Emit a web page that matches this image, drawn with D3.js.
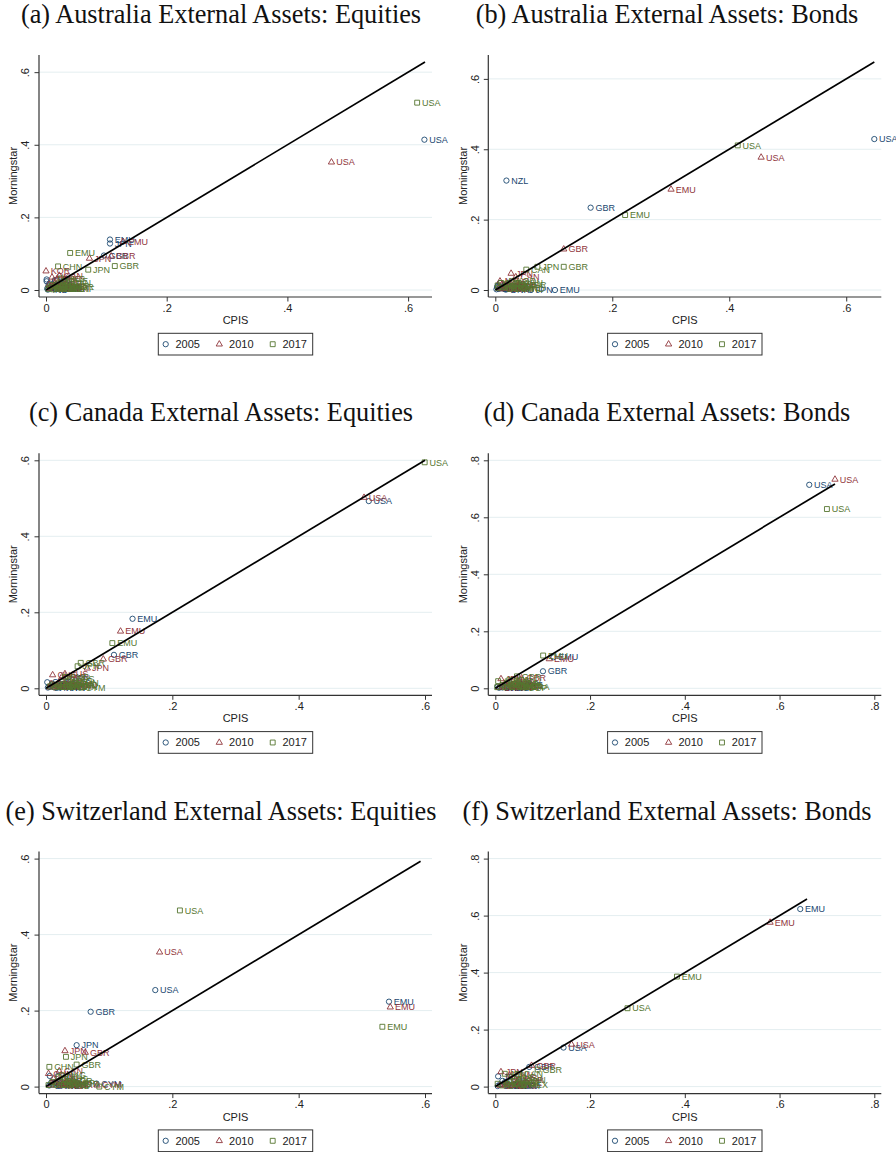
<!DOCTYPE html>
<html><head><meta charset="utf-8">
<script src="https://cdn.jsdelivr.net/npm/d3@7"></script>
<style>body{margin:0;background:#fff}svg{display:block}</style>
</head><body>
<svg id="c" width="896" height="1152"></svg>
<script>
// ---- data: [label, CPIS, Morningstar] ----
const years = ["2005", "2010", "2017"];
const colors = ["#1a476f", "#90353b", "#55752f"];

const aEq05 = [["USA",.627,.414],["EMU",.106,.139],["JPN",.106,.128],["GBR",.096,.095],["CHE",.001,.029],["CAN",.001,.024],["HKG",.006,.018],["KOR",.004,.012],["SGP",.008,.008],["NZL",.012,.015],["CHN",.002,.004],["SWE",.009,.005],["NOR",.015,.003],["TWN",.018,.010],["IND",.003,.001],["BRA",.022,.002]];
const aEq10 = [["USA",.473,.352],["EMU",.128,.133],["JPN",.072,.087],["GBR",.108,.093],["KOR",.000,.052],["CHE",.018,.030],["CAN",.022,.040],["HKG",.010,.035],["CHN",.015,.020],["SGP",.012,.010],["NZL",.005,.015],["SWE",.020,.008],["TWN",.008,.012],["IND",.006,.004],["BRA",.026,.003],["NOR",.030,.006]];
const aEq17 = [["USA",.615,.516],["EMU",.040,.102],["CHN",.020,.065],["JPN",.070,.056],["GBR",.114,.066],["CHE",.030,.025],["CAN",.035,.020],["HKG",.025,.032],["KOR",.020,.018],["SGP",.015,.010],["NZL",.010,.014],["TWN",.028,.012],["IND",.018,.006],["SWE",.022,.003],["BRA",.012,.002],["NOR",.038,.008],["DNK",.030,.004],["ZAF",.044,.003],["MEX",.006,.008],["IRL",.004,.003]];

const bBd05 = [["USA",.648,.429],["NZL",.019,.311],["GBR",.163,.234],["JPN",.061,.0],["EMU",.102,.0],["CAN",.008,.020],["CHE",.004,.012],["KOR",.010,.005],["SGP",.006,.003],["HKG",.003,.008],["CHN",.002,.002],["SWE",.012,.010],["NOR",.014,.004],["DNK",.018,.001]];
const bBd10 = [["USA",.4545,.377],["EMU",.3005,.286],["GBR",.117,.116],["JPN",.027,.047],["CAN",.035,.037],["NZL",.008,.025],["CHE",.012,.018],["KOR",.016,.012],["SGP",.020,.008],["HKG",.006,.005],["CHN",.010,.003],["SWE",.025,.015],["NOR",.030,.010],["DNK",.022,.004]];
const bBd17 = [["USA",.4145,.411],["EMU",.222,.213],["GBR",.117,.066],["JPN",.072,.066],["CAN",.053,.058],["NZL",.010,.020],["CHE",.020,.018],["KOR",.028,.025],["SGP",.030,.012],["HKG",.015,.008],["CHN",.040,.020],["SWE",.035,.006],["NOR",.045,.015],["DNK",.025,.003],["IND",.050,.004],["MEX",.005,.006],["IRL",.004,.013]];

const cEq05 = [["USA",.511,.4927],["EMU",.137,.183],["GBR",.1076,.088],["JPN",.035,.028],["CHE",.002,.016],["HKG",.010,.012],["KOR",.015,.008],["AUS",.018,.010],["SGP",.006,.004],["CHN",.003,.002],["SWE",.020,.005],["NOR",.012,.003],["BRA",.025,.006],["IND",.008,.007],["TWN",.022,.002]];
const cEq10 = [["USA",.5035,.502],["EMU",.118,.150],["GBR",.0907,.0765],["JPN",.0654,.0528],["CHE",.0105,.035],["AUS",.030,.038],["HKG",.025,.030],["KOR",.020,.015],["SGP",.012,.008],["CHN",.008,.012],["SWE",.030,.010],["NOR",.018,.004],["BRA",.035,.006],["IND",.006,.003],["TWN",.040,.008]];
const cEq17 = [["USA",.5995,.5947],["EMU",.105,.119],["GBR",.055,.067],["JPN",.050,.058],["CHE",.030,.030],["AUS",.040,.025],["HKG",.035,.020],["KOR",.028,.012],["SGP",.020,.008],["CHN",.045,.015],["SWE",.025,.004],["NOR",.038,.006],["BRA",.015,.003],["IND",.050,.010],["TWN",.042,.003],["CYM",.055,.002],["MEX",.006,.005],["IRL",.010,.010]];

const dBd05 = [["USA",.6627,.714],["EMU",.123,.109],["GBR",.1006,.0598],["CHE",.050,.013],["JPN",.040,.015],["AUS",.020,.010],["NOR",.010,.005],["KOR",.015,.003],["SWE",.025,.008],["DNK",.008,.002],["NZL",.030,.004],["CHN",.005,.006],["SGP",.035,.002]];
const dBd10 = [["USA",.717,.733],["EMU",.114,.103],["GBR",.0556,.036],["JPN",.012,.033],["AUS",.030,.025],["CHE",.020,.015],["NOR",.035,.010],["KOR",.040,.005],["SWE",.025,.004],["DNK",.015,.008],["NZL",.045,.012],["CHN",.008,.003],["SGP",.050,.006]];
const dBd17 = [["USA",.700,.629],["EMU",.101,.115],["GBR",.0457,.042],["AUS",.006,.025],["JPN",.030,.030],["CHE",.025,.020],["NOR",.040,.015],["KOR",.050,.010],["SWE",.035,.006],["DNK",.020,.004],["NZL",.055,.008],["CHN",.045,.020],["SGP",.060,.003],["MEX",.015,.012],["BRA",.065,.005],["IRL",.004,.004]];

const eEq05 = [["USA",.173,.254],["GBR",.0707,.197],["EMU",.543,.2235],["JPN",.0485,.109],["CYM",.080,.008],["CAN",.006,.028],["AUS",.008,.010],["HKG",.015,.012],["KOR",.010,.005],["SGP",.020,.004],["CHN",.005,.003],["SWE",.018,.008],["NOR",.025,.006],["BRA",.030,.004],["IND",.022,.002]];
const eEq10 = [["USA",.1798,.3537],["EMU",.545,.209],["JPN",.030,.094],["GBR",.0622,.0897],["CAN",.021,.041],["CYM",.081,.0035],["CHN",.004,.034],["AUS",.012,.020],["HKG",.020,.015],["KOR",.016,.010],["SGP",.025,.006],["SWE",.030,.008],["NOR",.035,.005],["BRA",.008,.004],["IND",.028,.002]];
const eEq17 = [["USA",.212,.4636],["EMU",.5325,.1575],["JPN",.0316,.0783],["CHN",.0053,.0519],["GBR",.0485,.058],["CYM",.0844,.0],["CAN",.020,.025],["AUS",.030,.020],["HKG",.025,.030],["KOR",.035,.015],["SGP",.040,.010],["SWE",.028,.006],["NOR",.045,.008],["BRA",.015,.005],["IND",.038,.003],["TWN",.010,.012],["MEX",.004,.004]];

const fBd05 = [["EMU",.6437,.623],["USA",.144,.137],["GBR",.0717,.069],["JPN",.006,.036],["CAN",.015,.020],["AUS",.020,.015],["NOR",.010,.008],["SWE",.025,.006],["DNK",.030,.004],["KOR",.035,.003],["CHN",.005,.002],["CYM",.042,.003]];
const fBd10 = [["EMU",.580,.576],["USA",.161,.148],["GBR",.0766,.0739],["JPN",.0119,.0516],["CAN",.030,.040],["AUS",.040,.030],["NOR",.050,.025],["SWE",.045,.015],["DNK",.025,.010],["KOR",.020,.006],["CHN",.010,.004],["CYM",.035,.003]];
const fBd17 = [["EMU",.3834,.386],["USA",.279,.275],["GBR",.0894,.0598],["CAN",.0506,.0434],["JPN",.020,.045],["AUS",.035,.035],["NOR",.040,.020],["SWE",.030,.015],["DNK",.045,.010],["KOR",.025,.008],["CHN",.055,.025],["CYM",.015,.004],["MEX",.060,.005],["IRL",.005,.010]];

const titles = [
  "(a) Australia External Assets: Equities", "(b) Australia External Assets: Bonds",
  "(c) Canada External Assets: Equities", "(d) Canada External Assets: Bonds",
  "(e) Switzerland External Assets: Equities", "(f) Switzerland External Assets: Bonds"
];
const ticks6 = [0, .2, .4, .6];
const ticks8 = [0, .2, .4, .6, .8];
const lineMax = [0.628, 0.648, 0.600, 0.717, 0.593, 0.658];
const xAxisTitle = "CPIS", yAxisTitle = "Morningstar";

const panels = [
  {series:[aEq05,aEq10,aEq17], ticks:ticks6},
  {series:[bBd05,bBd10,bBd17], ticks:ticks6},
  {series:[cEq05,cEq10,cEq17], ticks:ticks6},
  {series:[dBd05,dBd10,dBd17], ticks:ticks8},
  {series:[eEq05,eEq10,eEq17], ticks:ticks6},
  {series:[fBd05,fBd10,fBd17], ticks:ticks8}
];

// ---- drawing ----
const svg = d3.select("#c");
const SANS = "'Liberation Sans', Arial, Helvetica, sans-serif";
const colOff = [0, 449.3], rowOff = [0, 398.3, 796.6];
const titleCx = [221, 667];
const box = {l:39, r:432, t:55, b:297};
const symTypes = [d3.symbolCircle, d3.symbolTriangle, d3.symbolSquare];
const symSizes = [22, 17, 24];
const fmt = d => d === 0 ? "0" : d3.format(".1f")(d).replace(/^0/, "");
const axisCol = "#333";

panels.forEach((p, i) => {
  const cx = colOff[i % 2], cy = rowOff[Math.floor(i / 2)];
  svg.append("text").attr("x", titleCx[i % 2]).attr("y", cy + 23)
    .attr("text-anchor", "middle").attr("font-family", "'Liberation Serif', 'Times New Roman', serif")
    .attr("font-size", 26.3).attr("fill", "#111").text(titles[i]);

  const g = svg.append("g").attr("transform", `translate(${cx},${cy})`);
  const all = p.series.flat();
  const xMax = Math.max(d3.max(p.ticks), d3.max(all, d => d[1]), lineMax[i]);
  const yMax = Math.max(d3.max(p.ticks), d3.max(all, d => d[2]), lineMax[i]);
  const x = d3.scaleLinear().domain([0, xMax]).range([box.l + 7, box.r - 7]);
  const y = d3.scaleLinear().domain([0, yMax]).range([box.b - 7, box.t + 7]);

  // gridlines
  g.append("g").selectAll("line").data(p.ticks).join("line")
    .attr("x1", box.l).attr("x2", box.r).attr("y1", d => y(d)).attr("y2", d => y(d))
    .attr("stroke", "#e4eef0").attr("stroke-width", 1);

  // x axis
  const xa = g.append("g").attr("transform", `translate(0,${box.b})`)
    .call(d3.axisBottom(x).tickValues(p.ticks).tickFormat(fmt).tickSize(4.5).tickPadding(2.3));
  xa.select(".domain").remove();
  xa.selectAll("line").attr("stroke", axisCol);
  xa.selectAll("text").attr("font-family", SANS).attr("font-size", 11).attr("fill", "#222");

  // y axis
  const ya = g.append("g").attr("transform", `translate(${box.l},0)`)
    .call(d3.axisLeft(y).tickValues(p.ticks).tickFormat(fmt).tickSize(4.5));
  ya.select(".domain").remove();
  ya.selectAll("line").attr("stroke", axisCol);
  ya.selectAll("text").attr("x", null).attr("dy", null)
    .attr("transform", "translate(-9.8,0) rotate(-90)").attr("text-anchor", "middle")
    .attr("font-family", SANS).attr("font-size", 11).attr("fill", "#222");

  // axis lines
  g.append("line").attr("x1", box.l).attr("x2", box.l).attr("y1", box.t).attr("y2", box.b)
    .attr("stroke", axisCol).attr("stroke-width", 1.2);
  g.append("line").attr("x1", box.l).attr("x2", box.r).attr("y1", box.b).attr("y2", box.b)
    .attr("stroke", axisCol).attr("stroke-width", 1.2);

  // axis titles
  g.append("text").attr("x", (box.l + box.r) / 2).attr("y", 324).attr("text-anchor", "middle")
    .attr("font-family", SANS).attr("font-size", 11).attr("fill", "#222").text(xAxisTitle);
  g.append("text").attr("transform", `translate(17.2,${(box.t + box.b) / 2}) rotate(-90)`)
    .attr("text-anchor", "middle").attr("font-family", SANS).attr("font-size", 11)
    .attr("fill", "#222").text(yAxisTitle);

  // series
  p.series.forEach((s, k) => {
    const sg = g.append("g");
    const sym = d3.symbol().type(symTypes[k]).size(symSizes[k]);
    sg.selectAll("path").data(s).join("path").attr("d", sym)
      .attr("transform", d => `translate(${x(d[1])},${y(d[2])})`)
      .attr("fill", "none").attr("stroke", colors[k]).attr("stroke-width", 0.9);
    sg.selectAll("text").data(s).join("text")
      .attr("x", d => x(d[1]) + 4.8).attr("y", d => y(d[2]) + 3.2)
      .attr("font-family", SANS).attr("font-size", 9).attr("fill", colors[k]).text(d => d[0]);
  });

  // 45-degree line
  const ln = d3.line().x(d => x(d)).y(d => y(d));
  g.append("path").attr("d", ln([0, lineMax[i]])).attr("stroke", "#000")
    .attr("stroke-width", 1.7).attr("fill", "none");

  // legend
  const lg = g.append("g");
  lg.append("rect").attr("x", 158.3).attr("y", 333.3).attr("width", 154.4).attr("height", 21.7)
    .attr("fill", "#fff").attr("stroke", "#333").attr("stroke-width", 1);
  const lx = [165.7, 219.3, 272.7];
  years.forEach((yr, k) => {
    lg.append("path").attr("d", d3.symbol().type(symTypes[k]).size(symSizes[k])())
      .attr("transform", `translate(${lx[k]},344.2)`).attr("fill", "none")
      .attr("stroke", colors[k]).attr("stroke-width", 0.9);
    lg.append("text").attr("x", lx[k] + 9.8).attr("y", 348).attr("font-family", SANS)
      .attr("font-size", 11).attr("fill", "#222").text(yr);
  });
});
</script>
</body></html>
